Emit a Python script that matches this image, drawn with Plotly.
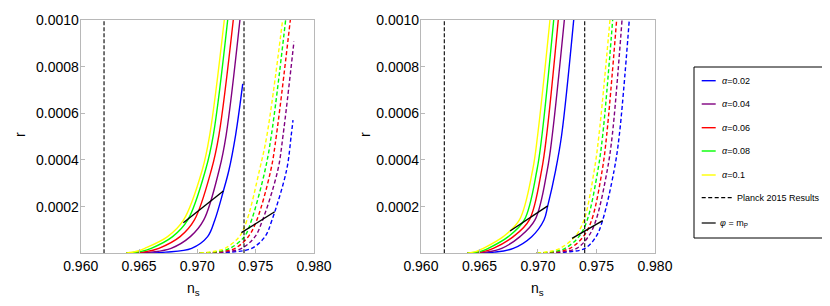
import plotly.graph_objects as go

# ---------------- data ----------------
alpha_labels = ["0.02", "0.04", "0.06", "0.08", "0.1"]
alpha_colors = ["#0000ff", "#800080", "#ff0000", "#00ff00", "#ffff00"]

planck_ns = [0.962, 0.974]
r_range = [0.0, 0.001]

x_ticks = [0.960, 0.965, 0.970, 0.975, 0.980]
x_ticktext = ["0.960", "0.965", "0.970", "0.975", "0.980"]
y_ticks = [0.0002, 0.0004, 0.0006, 0.0008, 0.0010]
y_ticktext = ["0.0002", "0.0004", "0.0006", "0.0008", "0.0010"]

# ---- left panel, solid curves (order: alpha 0.02, 0.04, 0.06, 0.08, 0.1)
left_solid_ns = [
    [0.9639, 0.9673, 0.96951, 0.97088, 0.97150, 0.97223, 0.97271, 0.97328, 0.97389],
    [0.9639, 0.9662, 0.96775, 0.96940, 0.97055, 0.97187, 0.97247, 0.97365],
    [0.9639, 0.9656, 0.96670, 0.96852, 0.96975, 0.97120, 0.97185, 0.97308],
    [0.9639, 0.9652, 0.96605, 0.96788, 0.96918, 0.97070, 0.97137, 0.97260],
    [0.9639, 0.9648, 0.96550, 0.96745, 0.96882, 0.97042, 0.97106, 0.97231],
]
left_solid_r = [
    [0.000001, 0.000005, 0.0000214, 0.0000714, 0.000143, 0.000267, 0.000357, 0.000507, 0.000726],
    [0.000001, 0.000006, 0.0000214, 0.0000714, 0.000143, 0.000357, 0.000507, 0.001],
    [0.000001, 0.000007, 0.0000214, 0.0000714, 0.000143, 0.000357, 0.000507, 0.001],
    [0.000001, 0.000008, 0.0000214, 0.0000714, 0.000143, 0.000357, 0.000507, 0.001],
    [0.000001, 0.000009, 0.0000214, 0.0000714, 0.000143, 0.000357, 0.000507, 0.001],
]
# ---- left panel, dashed curves
left_dash_ns = [
    [0.9702, 0.9729, 0.97466, 0.97580, 0.97640, 0.97765, 0.97805, 0.97820],
    [0.9702, 0.9724, 0.97380, 0.97494, 0.97560, 0.97690, 0.97735, 0.97828],
    [0.9702, 0.9720, 0.97323, 0.97437, 0.97510, 0.97630, 0.97678, 0.97797],
    [0.9702, 0.9718, 0.97280, 0.97403, 0.97465, 0.97581, 0.97635, 0.97757],
    [0.9702, 0.9715, 0.97237, 0.97360, 0.97426, 0.97533, 0.97597, 0.97731],
]
left_dash_r = [
    [0.000001, 0.000005, 0.0000214, 0.0000714, 0.000143, 0.000357, 0.000507, 0.000571],
    [0.000001, 0.000006, 0.0000214, 0.0000714, 0.000143, 0.000357, 0.000507, 0.000907],
    [0.000001, 0.000007, 0.0000214, 0.0000714, 0.000143, 0.000357, 0.000507, 0.001],
    [0.000001, 0.000008, 0.0000214, 0.0000714, 0.000143, 0.000357, 0.000507, 0.001],
    [0.000001, 0.000009, 0.0000214, 0.0000714, 0.000143, 0.000357, 0.000507, 0.001],
]
# ---- right panel, solid curves
right_solid_ns = [
    [0.96397, 0.9663, 0.96790, 0.96947, 0.97052, 0.97084, 0.97152, 0.97203, 0.97306],
    [0.96397, 0.9657, 0.96691, 0.96847, 0.96975, 0.97080, 0.97123, 0.97226],
    [0.96397, 0.9653, 0.96619, 0.96790, 0.96927, 0.97032, 0.97075, 0.97174],
    [0.96397, 0.9651, 0.96576, 0.96747, 0.96884, 0.96992, 0.97035, 0.97135],
    [0.96397, 0.9648, 0.96533, 0.96704, 0.96842, 0.96955, 0.96998, 0.97103],
]
right_solid_r = [
    [0.000001, 0.000005, 0.0000214, 0.0000714, 0.000143, 0.000203, 0.000357, 0.000507, 0.001],
    [0.000001, 0.000006, 0.0000214, 0.0000714, 0.000143, 0.000357, 0.000507, 0.001],
    [0.000001, 0.000007, 0.0000214, 0.0000714, 0.000143, 0.000357, 0.000507, 0.001],
    [0.000001, 0.000008, 0.0000214, 0.0000714, 0.000143, 0.000357, 0.000507, 0.001],
    [0.000001, 0.000009, 0.0000214, 0.0000714, 0.000143, 0.000357, 0.000507, 0.001],
]
# ---- right panel, dashed curves
right_dash_ns = [
    [0.9699, 0.9724, 0.97403, 0.97497, 0.97554, 0.97652, 0.97696, 0.97781],
    [0.9699, 0.9720, 0.97332, 0.97431, 0.97497, 0.97593, 0.97636, 0.97719],
    [0.9699, 0.9716, 0.97274, 0.97388, 0.97460, 0.97550, 0.97588, 0.97673],
    [0.9699, 0.9714, 0.97232, 0.97351, 0.97422, 0.97513, 0.97554, 0.97639],
    [0.9699, 0.9711, 0.97189, 0.97317, 0.97394, 0.97482, 0.97522, 0.97616],
]
right_dash_r = [
    [0.000001, 0.000005, 0.0000214, 0.0000714, 0.000143, 0.000357, 0.000507, 0.001],
    [0.000001, 0.000006, 0.0000214, 0.0000714, 0.000143, 0.000357, 0.000507, 0.001],
    [0.000001, 0.000007, 0.0000214, 0.0000714, 0.000143, 0.000357, 0.000507, 0.001],
    [0.000001, 0.000008, 0.0000214, 0.0000714, 0.000143, 0.000357, 0.000507, 0.001],
    [0.000001, 0.000009, 0.0000214, 0.0000714, 0.000143, 0.000357, 0.000507, 0.001],
]

# ---- phi = m_P lines (end points)
left_phi_solid_ns = [0.96880, 0.97223]
left_phi_solid_r = [0.000131, 0.000267]
left_phi_dash_ns = [0.97378, 0.97663]
left_phi_dash_r = [0.0000886, 0.000178]
right_phi_solid_ns = [0.96762, 0.97084]
right_phi_solid_r = [0.0000956, 0.000203]
right_phi_dash_ns = [0.97292, 0.97554]
right_phi_dash_r = [0.0000643, 0.000140]

# ---------------- figure ----------------
FONT = "Arial, Liberation Sans, Helvetica, sans-serif"
DASH = "4px,2.5px"
OFF = 8                      # the page body adds an 8 px margin
W, H = 830 - OFF, 306 - OFF  # figure size inside that margin


def px(x):
    return (x - OFF) / W


def py(y):
    return (H - (y - OFF)) / H


fig = go.Figure()


def add_curve(x, y, color, dash, xa, ya):
    fig.add_trace(go.Scatter(
        x=x, y=y, mode="lines", xaxis=xa, yaxis=ya, showlegend=False,
        line=dict(color=color, width=1.4, dash=dash, shape="spline", smoothing=1.0),
        hoverinfo="skip"))


for i, c in enumerate(alpha_colors):
    add_curve(left_solid_ns[i], left_solid_r[i], c, "solid", "x", "y")
    add_curve(left_dash_ns[i], left_dash_r[i], c, DASH, "x", "y")
    add_curve(right_solid_ns[i], right_solid_r[i], c, "solid", "x2", "y2")
    add_curve(right_dash_ns[i], right_dash_r[i], c, DASH, "x2", "y2")

for xa, ya in (("x", "y"), ("x2", "y2")):
    for p in planck_ns:
        fig.add_trace(go.Scatter(
            x=[p, p], y=r_range, mode="lines", xaxis=xa, yaxis=ya, showlegend=False,
            line=dict(color="black", width=1.1, dash="4px,2px"), hoverinfo="skip"))


def add_phi(x, y, xa, ya):
    fig.add_trace(go.Scatter(
        x=x, y=y, mode="lines", xaxis=xa, yaxis=ya, showlegend=False,
        line=dict(color="black", width=1.4), hoverinfo="skip"))


add_phi(left_phi_solid_ns, left_phi_solid_r, "x", "y")
add_phi(left_phi_dash_ns, left_phi_dash_r, "x", "y")
add_phi(right_phi_solid_ns, right_phi_solid_r, "x2", "y2")
add_phi(right_phi_dash_ns, right_phi_dash_r, "x2", "y2")

ydom = [py(253.3), py(20)]

axis_common = dict(
    showline=True, mirror=True, linecolor="#b8b8b8", linewidth=1,
    ticks="inside", ticklen=4, tickcolor="#b8b8b8", tickwidth=1,
    showgrid=False, zeroline=False, automargin=False,
    tickfont=dict(family=FONT, size=14, color="black"),
)

fig.update_layout(
    width=W, height=H,
    margin=dict(l=0, r=0, t=0, b=0, pad=0, autoexpand=False),
    paper_bgcolor="white", plot_bgcolor="white",
    xaxis=dict(domain=[px(80.7), px(314)], range=[0.960, 0.980],
               tickvals=x_ticks, ticktext=x_ticktext, anchor="y", **axis_common),
    yaxis=dict(domain=ydom, range=r_range, tickvals=y_ticks, ticktext=y_ticktext,
               anchor="x", ticklabelstandoff=-2, **axis_common),
    xaxis2=dict(domain=[px(420.9), px(654.9)], range=[0.960, 0.980],
                tickvals=x_ticks, ticktext=x_ticktext, anchor="y2", **axis_common),
    yaxis2=dict(domain=ydom, range=r_range, tickvals=y_ticks, ticktext=y_ticktext,
                anchor="x2", ticklabelstandoff=-2, **axis_common),
    showlegend=False,
)

ann = []
# axis titles
for xr, xn in ((20, 193), (365, 537)):
    ann.append(dict(x=px(xr), y=py(135), xref="paper", yref="paper", text="r",
                    textangle=-90, showarrow=False, xanchor="center", yanchor="middle",
                    font=dict(family=FONT, size=14, color="black")))
    ann.append(dict(x=px(xn), y=py(289), xref="paper", yref="paper",
                    text="n<sub>s</sub>", showarrow=False, xanchor="center", yanchor="middle",
                    font=dict(family=FONT, size=14, color="black")))

# legend (drawn by hand to match the boxed key)
shapes = [dict(type="rect", xref="paper", yref="paper",
               x0=px(694), x1=px(828), y0=py(238), y1=py(67),
               line=dict(color="black", width=1), fillcolor="white", layer="below")]
leg_y = [80.7, 104, 127.7, 151, 175, 197.7, 223]
for i, c in enumerate(alpha_colors):
    yy = py(leg_y[i])
    shapes.append(dict(type="line", xref="paper", yref="paper", x0=px(701.7), x1=px(715.7),
                       y0=yy, y1=yy, line=dict(color=c, width=1.4)))
    ann.append(dict(x=px(720), y=yy, xref="paper", yref="paper", xanchor="left",
                    yanchor="middle", text="<i>α</i>=" + alpha_labels[i], showarrow=False,
                    font=dict(family=FONT, size=9, color="black")))
yy = py(leg_y[5])
shapes.append(dict(type="line", xref="paper", yref="paper", x0=px(701.7), x1=px(733),
                   y0=yy, y1=yy, line=dict(color="black", width=1.2, dash="4px,2.5px")))
ann.append(dict(x=px(735), y=yy, xref="paper", yref="paper", xanchor="left",
                yanchor="middle", text="Planck 2015 Results", showarrow=False,
                font=dict(family=FONT, size=9, color="black")))
yy = py(leg_y[6])
shapes.append(dict(type="line", xref="paper", yref="paper", x0=px(701.7), x1=px(715.7),
                   y0=yy, y1=yy, line=dict(color="#222222", width=1.4)))
ann.append(dict(x=px(718), y=yy, xref="paper", yref="paper", xanchor="left",
                yanchor="middle", text="<i>φ</i> = m<sub>P</sub>", showarrow=False,
                font=dict(family=FONT, size=9, color="black")))

fig.update_layout(annotations=ann, shapes=shapes)
fig.write_html("out.html")
